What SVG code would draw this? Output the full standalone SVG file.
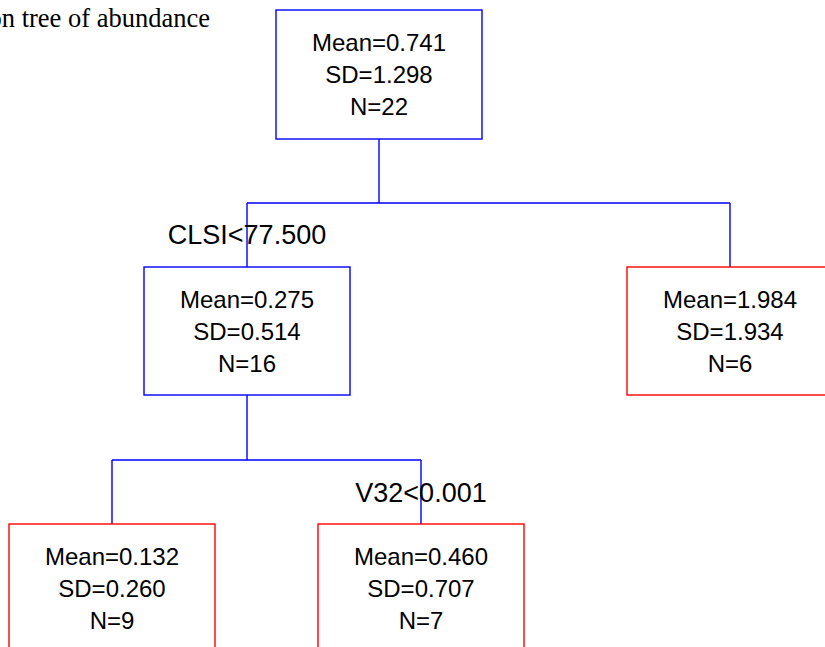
<svg xmlns="http://www.w3.org/2000/svg" width="825" height="647" viewBox="0 0 825 647">
  <style>
    .split { fill: #ffffff; stroke: #0000ff; stroke-width: 1.4; }
    .leaf { fill: #ffffff; stroke: #ff0000; stroke-width: 1.4; }
    .edge { fill: none; stroke: #0000ff; stroke-width: 1.4; }
    .stat { font-family: "Liberation Sans", Arial, sans-serif; font-size: 24px; fill: #000000; text-anchor: middle; }
    .rule { font-family: "Liberation Sans", Arial, sans-serif; font-size: 27px; fill: #000000; text-anchor: middle; }
    .title { font-family: "Liberation Serif", "Times New Roman", serif; font-size: 26.5px; fill: #000000; text-anchor: end; }
  </style>
  <rect width="825" height="647" fill="#ffffff"/>

  <text class="title" x="210" y="27">on tree of abundance</text>

  <!-- tree branches -->
  <g id="connectors">
    <path class="edge" d="M379 139 V203 M247 203 H730 M247 203 V267 M730 203 V267"/>
    <path class="edge" d="M247 395 V460 M112 460 H421 M112 460 V524 M421 460 V524"/>
  </g>

  <g id="root">
    <rect class="split" x="276" y="10" width="206" height="129"/>
    <text class="stat" x="379" y="51">Mean=0.741</text>
    <text class="stat" x="379" y="83">SD=1.298</text>
    <text class="stat" x="379" y="115">N=22</text>
  </g>

  <g id="split-clsi">
    <rect class="split" x="144" y="267" width="206" height="128"/>
    <text class="stat" x="247" y="308">Mean=0.275</text>
    <text class="stat" x="247" y="340">SD=0.514</text>
    <text class="stat" x="247" y="372">N=16</text>
  </g>

  <g id="leaf-right">
    <rect class="leaf" x="627" y="267" width="206" height="128"/>
    <text class="stat" x="730" y="308">Mean=1.984</text>
    <text class="stat" x="730" y="340">SD=1.934</text>
    <text class="stat" x="730" y="372">N=6</text>
  </g>

  <g id="leaf-low">
    <rect class="leaf" x="9" y="524" width="206" height="128"/>
    <text class="stat" x="112" y="565">Mean=0.132</text>
    <text class="stat" x="112" y="597">SD=0.260</text>
    <text class="stat" x="112" y="629">N=9</text>
  </g>

  <g id="leaf-high">
    <rect class="leaf" x="318" y="524" width="206" height="128"/>
    <text class="stat" x="421" y="565">Mean=0.460</text>
    <text class="stat" x="421" y="597">SD=0.707</text>
    <text class="stat" x="421" y="629">N=7</text>
  </g>

  <!-- split rules, drawn over the branch lines -->
  <g id="labels">
    <text class="rule" x="247" y="244">CLSI&lt;77.500</text>
    <text class="rule" x="421" y="502">V32&lt;0.001</text>
  </g>
</svg>
